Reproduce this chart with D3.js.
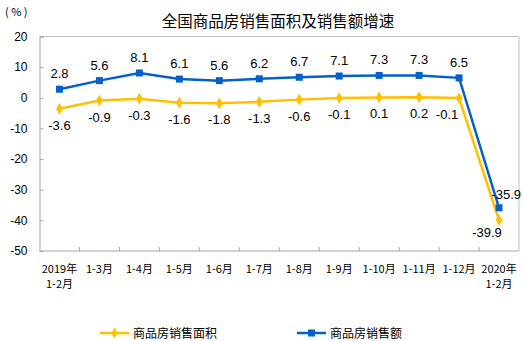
<!DOCTYPE html>
<html>
<head>
<meta charset="utf-8">
<script src="https://cdn.jsdelivr.net/npm/d3@7"></script>
<style>
  html, body { margin: 0; padding: 0; background: #fff; }
  svg { display: block; }
</style>
</head>
<body>
<script>
// Period labels (two-line where the year is shown)
const categories = [
  ["2019年", "1-2月"], ["1-3月"], ["1-4月"], ["1-5月"], ["1-6月"], ["1-7月"],
  ["1-8月"], ["1-9月"], ["1-10月"], ["1-11月"], ["1-12月"], ["2020年", "1-2月"]
];
// Growth of floor area sold (%)
const areaGrowth = [-3.6, -0.9, -0.3, -1.6, -1.8, -1.3, -0.6, -0.1, 0.1, 0.2, -0.1, -39.9];
// Growth of sales value (%)
const salesGrowth = [2.8, 5.6, 8.1, 6.1, 5.6, 6.2, 6.7, 7.1, 7.3, 7.3, 6.5, -35.9];
const yTicks = [20, 10, 0, -10, -20, -30, -40, -50];
const seriesNames = ["商品房销售面积", "商品房销售额"];
const titleText = "全国商品房销售面积及销售额增速";

const W = 523, H = 341;
const plot = { left: 39.5, right: 519, top: 36.5, bottom: 251 };
const YELLOW = "#FFC000", BLUE = "#0560C8";
const numFont = "'Liberation Sans', Arial, sans-serif";
const cjkFont = "'Noto Sans CJK SC', sans-serif";
// plain hyphen-minus for negative numbers
const fmt1 = d => d.toFixed(1);
const fmt0 = d => String(d);

const svg = d3.select("body").append("svg").attr("width", W).attr("height", H);

const x = d3.scaleBand().domain(d3.range(categories.length)).range([plot.left, plot.right]);
const y = d3.scaleLinear().domain([-50, 20]).range([plot.bottom, plot.top]);
const cx = i => x(i) + x.bandwidth() / 2;

// Title and unit
svg.append("text").attr("x", 278).attr("y", 27).attr("text-anchor", "middle")
  .attr("font-family", cjkFont).attr("font-size", 15.5).attr("fill", "#000")
  .text(titleText);
svg.append("text").attr("x", 5).attr("y", 16)
  .attr("font-family", cjkFont).attr("font-size", 11).attr("letter-spacing", 2.5).attr("fill", "#000")
  .text("(%)");

// Plot frame (top & right)
svg.append("path")
  .attr("d", `M${plot.left},${plot.top}H${plot.right}V${plot.bottom}`)
  .attr("fill", "none").attr("stroke", "#BFBFBF").attr("stroke-width", 1);

// Y axis
const yAxis = svg.append("g").attr("transform", `translate(${plot.left},0)`)
  .call(d3.axisLeft(y).tickValues(yTicks).tickSize(-4).tickPadding(12).tickFormat(fmt0));
yAxis.select(".domain").attr("stroke", "#A6A6A6");
yAxis.selectAll(".tick line").attr("stroke", "#A6A6A6");
yAxis.selectAll(".tick text").attr("font-family", numFont).attr("font-size", 12).attr("fill", "#000");

// X axis: boundary ticks between categories
const xAxisG = svg.append("g");
xAxisG.append("line").attr("x1", plot.left).attr("x2", plot.right)
  .attr("y1", plot.bottom).attr("y2", plot.bottom).attr("stroke", "#A6A6A6");
xAxisG.selectAll("line.tk").data(d3.range(1, categories.length)).join("line")
  .attr("class", "tk")
  .attr("x1", i => x(i)).attr("x2", i => x(i))
  .attr("y1", plot.bottom).attr("y2", plot.bottom - 4)
  .attr("stroke", "#A6A6A6");
const xl = xAxisG.selectAll("text.xl").data(categories).join("text")
  .attr("class", "xl")
  .attr("font-family", cjkFont).attr("font-size", 11).attr("fill", "#000")
  .attr("text-anchor", "middle");
xl.each(function (lines, i) {
  d3.select(this).selectAll("tspan").data(lines).join("tspan")
    .attr("x", cx(i)).attr("y", (d, k) => 273 + k * 15).text(d => d);
});

// Series lines
const line = d3.line().x((d, i) => cx(i)).y(d => y(d));
svg.append("path").datum(areaGrowth).attr("d", line)
  .attr("fill", "none").attr("stroke", YELLOW).attr("stroke-width", 2.5);
svg.append("path").datum(salesGrowth).attr("d", line)
  .attr("fill", "none").attr("stroke", BLUE).attr("stroke-width", 2.5);

// Markers
const diamond = d3.symbol().type(d3.symbolDiamond).size(40);
svg.selectAll("path.mA").data(areaGrowth).join("path").attr("class", "mA")
  .attr("d", diamond).attr("transform", (d, i) => `translate(${cx(i)},${y(d)})`)
  .attr("fill", YELLOW);
svg.selectAll("rect.mS").data(salesGrowth).join("rect").attr("class", "mS")
  .attr("x", (d, i) => cx(i) - 3.5).attr("y", d => y(d) - 3.5)
  .attr("width", 7).attr("height", 7).attr("fill", BLUE);

// Value labels: sales above, area below; labels around the steep drop are nudged clear of the lines
const last = categories.length - 1;
svg.selectAll("text.lS").data(salesGrowth).join("text").attr("class", "lS")
  .attr("x", (d, i) => i === last ? W - 2 : cx(i))
  .attr("y", (d, i) => i === last ? y(d) - 9 : y(d) - 11)
  .attr("text-anchor", (d, i) => i === last ? "end" : "middle")
  .attr("font-family", numFont).attr("font-size", 13).attr("fill", "#000")
  .text(d => fmt1(d));
svg.selectAll("text.lA").data(areaGrowth).join("text").attr("class", "lA")
  .attr("x", (d, i) => i === last ? cx(i) - 12 : i === last - 1 ? cx(i) - 12 : cx(i))
  .attr("y", (d, i) => i === last ? y(d) + 17 : y(d) + 21)
  .attr("text-anchor", "middle")
  .attr("font-family", numFont).attr("font-size", 13).attr("fill", "#000")
  .text(d => fmt1(d));

// Legend
const legend = [
  { name: seriesNames[0], color: YELLOW, x: 100, shape: "diamond" },
  { name: seriesNames[1], color: BLUE, x: 297, shape: "square" }
];
const lg = svg.selectAll("g.lg").data(legend).join("g").attr("class", "lg")
  .attr("transform", d => `translate(${d.x},333)`);
lg.append("line").attr("x1", 0).attr("x2", 29).attr("y1", 0).attr("y2", 0)
  .attr("stroke", d => d.color).attr("stroke-width", 2.5);
lg.filter(d => d.shape === "diamond").append("path")
  .attr("d", d3.symbol().type(d3.symbolDiamond).size(36))
  .attr("transform", "translate(14.5,0)").attr("fill", d => d.color);
lg.filter(d => d.shape === "square").append("rect")
  .attr("x", 11).attr("y", -3.5).attr("width", 7).attr("height", 7).attr("fill", d => d.color);
lg.append("text").attr("x", 33).attr("y", 4.5)
  .attr("font-family", cjkFont).attr("font-size", 12).attr("fill", "#000")
  .text(d => d.name);
</script>
</body>
</html>
